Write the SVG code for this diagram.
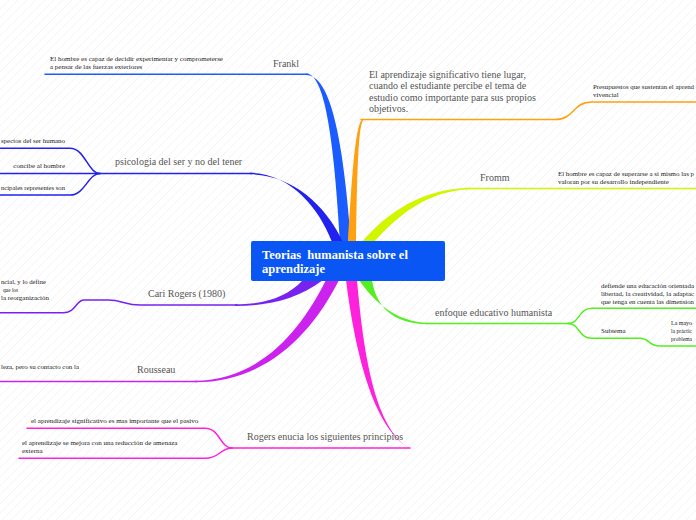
<svg xmlns="http://www.w3.org/2000/svg" width="696" height="520" viewBox="0 0 696 520">
<defs>
<pattern id="bg" patternUnits="userSpaceOnUse" width="9" height="9">
<path d="M0 9 L9 0" stroke="#f2f2f2" stroke-width="1"/>
</pattern>
<style>
.lab{font-family:"Liberation Serif","Times New Roman",serif;font-size:10px;fill:#555}
.sub{font-family:"Liberation Serif","Times New Roman",serif;font-size:7px;fill:#222}
.ln{fill:none;stroke-width:1.5;stroke-linecap:round}
.title{font-family:"Liberation Serif","Times New Roman",serif;font-size:12.5px;font-weight:bold;fill:#fff;white-space:pre}
</style>
</defs>
<rect width="696" height="520" fill="#fff"/>
<rect width="696" height="520" fill="url(#bg)"/>

<g id="connectors">
<path d="M45 74.3 L308 74.3" class="ln" stroke="#1a5cff"/>
<path d="M306 73.6 C322 73.6 333 120 340 242 L351 242 C342 120 327 75 306 75 Z" fill="#1a5cff"/>
<path d="M100 173.5 L252 173.5" class="ln" stroke="#2222ee"/>
<path d="M0 173.5 L100 173.5" class="ln" stroke="#2222ee"/>
<path d="M0 148.3 L70 148.3 C85 148.3 88 173.5 100 173.5" class="ln" stroke="#2222ee"/>
<path d="M0 195 L70 195 C85 195 88 173.5 100 173.5" class="ln" stroke="#2222ee"/>
<path d="M250 172.8 C288 173 318 205 332 242 L343 242 C325 203 290 174.3 250 174.3 Z" fill="#2222ee"/>
<path d="M361 119.5 L555 119.5 C575 119.5 572 102 592 102 L696 102" class="ln" stroke="#ffa010"/>
<path d="M363 118.8 C355 122 352 180 348 242 L356 242 C357 180 358 128 363 120.3 Z" fill="#ffa010"/>
<path d="M465 188.5 L696 188.5" class="ln" stroke="#d2f500"/>
<path d="M470 187.8 C420 189 386 214 362 242 L374 242 C396 218 425 191 470 189.3 Z" fill="#d2f500"/>
<path d="M0 312.7 L63 312.7 C76 312.7 76 300 84 300 L108 300 C122 300 125 305 140 305 L237 305" class="ln" stroke="#7722ee"/>
<path d="M235 304.3 C265 304.3 287 297 303 280 L323 280 C297 300 266 306 235 306 Z" fill="#7722ee"/>
<path d="M0 381.5 L197 381.5" class="ln" stroke="#cc22ee"/>
<path d="M195 380.8 C262 380 302 328 326 280 L339 280 C312 334 266 382.3 195 382.3 Z" fill="#cc22ee"/>
<path d="M230 448 L410 448" class="ln" stroke="#ff22dd"/>
<path d="M27 428.3 L205 428.3 C220 428.3 220 448 232 448" class="ln" stroke="#ff22dd"/>
<path d="M19 458.3 L205 458.3 C220 458.3 220 448 232 448" class="ln" stroke="#ff22dd"/>
<path d="M346 280 C356 360 376 432 411 448.8 L409 448 C376 428 364 360 357 280 Z" fill="#ff22dd"/>
<path d="M427 323.5 L570 323.5" class="ln" stroke="#55ee22"/>
<path d="M568 323.5 C580 323.5 578 308.3 592 308.3 L696 308.3" class="ln" stroke="#55ee22"/>
<path d="M568 323.5 C580 323.5 578 338.3 592 338.3 L640 338.3 C650 338.3 648 346 660 346 L696 346" class="ln" stroke="#55ee22"/>
<path d="M359 280 C374 302 396 322 428 322.8 L428 324.2 C392 324 376 306 372 280 Z" fill="#55ee22"/>
</g>

<g id="center">
<rect x="251" y="241" width="194" height="40" rx="2" fill="#0a56f5"/>
<text class="title" x="262" y="258.5" xml:space="preserve">Teorias  humanista sobre el</text>
<text class="title" x="262" y="273">aprendizaje</text>
</g>

<g id="frankl">
<text class="lab" x="273" y="67">Frankl</text>
<text class="sub" x="50" y="60.5">El hombre es capaz de decidir experimentar y comprometerse</text>
<text class="sub" x="50" y="68.5">a pensar de las fuerzas exteriores</text>
</g>

<g id="psicologia">
<text class="lab" x="115" y="165">psicologia del ser y no del tener</text>
<text class="sub" x="1" y="143" textLength="64" lengthAdjust="spacingAndGlyphs">spectos del ser humano</text>
<text class="sub" x="65" y="168" text-anchor="end">concibe al hombre</text>
<text class="sub" x="1" y="189.5" textLength="64" lengthAdjust="spacingAndGlyphs">ncipales representes son</text>
</g>

<g id="aprendizaje-significativo">
<text class="lab" x="369" y="78">El aprendizaje significativo tiene lugar,</text>
<text class="lab" x="369" y="89.3">cuando el estudiante percibe el tema de</text>
<text class="lab" x="369" y="100.6">estudio como importante para sus propios</text>
<text class="lab" x="369" y="111.9">objetivos.</text>
<text class="sub" x="593" y="89" textLength="101" lengthAdjust="spacingAndGlyphs">Presupuestos que sustentan el aprend</text>
<text class="sub" x="593" y="96.5">vivencial</text>
</g>

<g id="fromm">
<text class="lab" x="480" y="181">Fromm</text>
<text class="sub" x="558" y="176" textLength="136" lengthAdjust="spacingAndGlyphs">El hombre es capaz de superarse a si mismo las p</text>
<text class="sub" x="558" y="184">valoran por su desarrollo independiente</text>
</g>

<g id="cari-rogers">
<text class="lab" x="148" y="297">Cari Rogers (1980)</text>
<text class="sub" x="1" y="284" textLength="45" lengthAdjust="spacingAndGlyphs">ncial, y lo define</text>
<text class="sub" x="3" y="292" textLength="15" lengthAdjust="spacingAndGlyphs">que los</text>
<text class="sub" x="1" y="300" textLength="48" lengthAdjust="spacingAndGlyphs">la reorganización</text>
</g>

<g id="rousseau">
<text class="lab" x="137" y="373">Rousseau</text>
<text class="sub" x="1" y="369" textLength="78" lengthAdjust="spacingAndGlyphs">leza, pero su contacto con la</text>
</g>

<g id="rogers-principios">
<text class="lab" x="247" y="440">Rogers enucia los siguientes principios</text>
<text class="sub" x="31" y="422.5">el aprendizaje significativo es mas importante que el pasivo</text>
<text class="sub" x="22" y="444.5">el aprendizaje se mejora con una reducción de amenaza</text>
<text class="sub" x="22" y="452.8">externa</text>
</g>

<g id="enfoque">
<text class="lab" x="435" y="316">enfoque educativo humanista</text>
<text class="sub" x="601" y="287.5" textLength="93" lengthAdjust="spacingAndGlyphs">defiende una educación orientada</text>
<text class="sub" x="601" y="296" textLength="93" lengthAdjust="spacingAndGlyphs">libertad, la creatividad, la adaptac</text>
<text class="sub" x="601" y="304" textLength="93" lengthAdjust="spacingAndGlyphs">que tenga en cuenta las dimension</text>
<text class="sub" x="601" y="333">Subtema</text>
<text class="sub" x="671" y="324.5" textLength="21" lengthAdjust="spacingAndGlyphs">La mayo</text>
<text class="sub" x="671" y="333" textLength="21" lengthAdjust="spacingAndGlyphs">la práctic</text>
<text class="sub" x="671" y="341" textLength="21" lengthAdjust="spacingAndGlyphs">problema</text>
</g>
</svg>
